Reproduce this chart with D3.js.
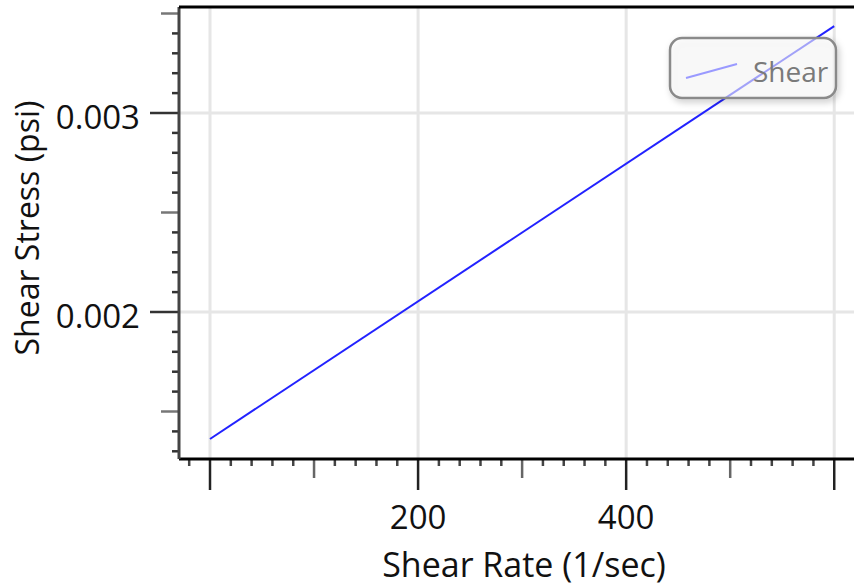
<!DOCTYPE html>
<html>
<head>
<meta charset="utf-8">
<script src="https://cdn.jsdelivr.net/npm/d3@7"></script>
<style>
  html, body { margin: 0; padding: 0; background: #fff; }
  svg { display: block; }
  text { font-family: "Open Sans", "Noto Sans", sans-serif; }
</style>
</head>
<body>
<svg id="chart" width="854" height="588"></svg>
<script>
// Shear stress versus shear rate (linear fit endpoints)
const shearRate = [0, 600];
const shearStress = [0.001362, 0.003437];
const seriesName = "Shear";
const xTickLabels = [200, 400];
const yTickLabels = [0.002, 0.003];
const xMajor = [0, 200, 400, 600];
const xLabel = "Shear Rate (1/sec)";
const yLabel = "Shear Stress (psi)";

const svg = d3.select("#chart");
const plotL = 179, plotT = 7, plotR = 854, plotB = 459;

const x = d3.scaleLinear().domain([-29.8, 619]).range([plotL, plotR]);
const y = d3.scaleLinear().domain([0.0012613, 0.0035327]).range([plotB, plotT]);

const defs = svg.append("defs");
const f = defs.append("filter").attr("id", "shadow").attr("x", "-20%").attr("y", "-30%").attr("width", "140%").attr("height", "170%");
f.append("feDropShadow").attr("dx", 2).attr("dy", 3).attr("stdDeviation", 3).attr("flood-color", "#000").attr("flood-opacity", 0.25);
defs.append("clipPath").attr("id", "plotclip").append("rect")
  .attr("x", plotL).attr("y", plotT).attr("width", plotR - plotL).attr("height", plotB - plotT);

// grid
const grid = svg.append("g").attr("stroke", "#e6e6e6").attr("stroke-width", 3);
grid.selectAll(".gx").data(xMajor).join("line").attr("class", "gx")
  .attr("x1", d => x(d)).attr("x2", d => x(d)).attr("y1", plotT).attr("y2", plotB);
grid.selectAll(".gy").data(yTickLabels).join("line").attr("class", "gy")
  .attr("x1", plotL).attr("x2", plotR).attr("y1", d => y(d)).attr("y2", d => y(d));

// data line
const rows = shearRate.map((r, i) => ({ r, s: shearStress[i] }));
svg.append("path").datum(rows)
  .attr("clip-path", "url(#plotclip)")
  .attr("fill", "none").attr("stroke", "#2222ff").attr("stroke-width", 2)
  .attr("d", d3.line().x(d => x(d.r)).y(d => y(d.s)));

// x axis ticks: minor every 20, medium every 100, major every 200
const xt = d3.range(-20, 620, 20);
const xAx = svg.append("g");
xAx.selectAll("line").data(xt).join("line")
  .attr("x1", d => x(d)).attr("x2", d => x(d)).attr("y1", plotB)
  .attr("y2", d => plotB + (d % 200 === 0 ? 31 : d % 100 === 0 ? 19 : 7))
  .attr("stroke-width", 2.5)
  .attr("stroke", d => d % 200 === 0 ? "#222" : d % 100 === 0 ? "#666" : "#444");
svg.append("line").attr("x1", plotL).attr("x2", plotR).attr("y1", plotB).attr("y2", plotB)
  .attr("stroke", "#000").attr("stroke-width", 3);

// y axis ticks: minor every 0.0001, medium every 0.0005, major every 0.001
const yt = d3.range(13, 36).map(i => i / 10000);
const yAx = svg.append("g");
yAx.selectAll("line").data(yt).join("line")
  .attr("y1", d => y(d)).attr("y2", d => y(d)).attr("x2", plotL)
  .attr("x1", d => {
    const k = Math.round(d * 10000);
    return plotL - (k % 10 === 0 ? 29 : k % 5 === 0 ? 18 : 7);
  })
  .attr("stroke-width", 2.5)
  .attr("stroke", d => {
    const k = Math.round(d * 10000);
    return k % 10 === 0 ? "#333" : k % 5 === 0 ? "#777" : "#333";
  });
svg.append("line").attr("x1", plotL).attr("x2", plotL).attr("y1", plotT).attr("y2", plotB)
  .attr("stroke", "#444").attr("stroke-width", 3);
svg.append("line").attr("x1", plotL).attr("x2", plotR).attr("y1", plotT).attr("y2", plotT)
  .attr("stroke", "#000").attr("stroke-width", 3);

// tick labels
svg.append("g").selectAll("text").data(xTickLabels).join("text")
  .attr("x", d => x(d)).attr("y", 529).attr("text-anchor", "middle")
  .attr("font-size", 33).attr("fill", "#111").text(d => d);
svg.append("g").selectAll("text").data(yTickLabels).join("text")
  .attr("x", 140).attr("y", d => y(d) + 16).attr("text-anchor", "end")
  .attr("font-size", 33).attr("fill", "#111").text(d => d3.format(".3f")(d));

// axis titles
svg.append("text").attr("x", 524).attr("y", 577).attr("text-anchor", "middle")
  .attr("font-size", 34).attr("fill", "#111").text(xLabel);
svg.append("text").attr("transform", "translate(39,228) rotate(-90)").attr("text-anchor", "middle")
  .attr("font-size", 32).attr("fill", "#111").text(yLabel);

// legend
const lg = svg.append("g");
lg.append("rect").attr("x", 670).attr("y", 38).attr("width", 166).attr("height", 60)
  .attr("rx", 12).attr("fill", "rgba(255,255,255,0.55)").attr("stroke", "#8a8a8a").attr("stroke-width", 2.5)
  .attr("filter", "url(#shadow)");
lg.append("line").attr("x1", 686).attr("y1", 78).attr("x2", 737).attr("y2", 64)
  .attr("stroke", "#9a9aff").attr("stroke-width", 2);
lg.append("text").attr("x", 753).attr("y", 82).attr("font-size", 28).attr("fill", "#7a7a7a").text(seriesName);
</script>
</body>
</html>
